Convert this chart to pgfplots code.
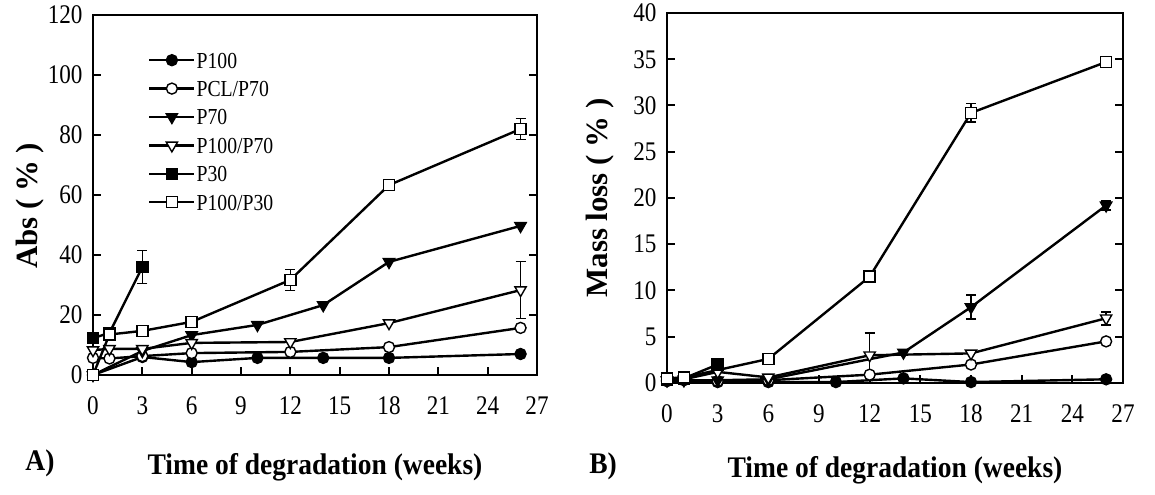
\documentclass[border=0pt]{standalone}
\usepackage{pgfplots}
\pgfplotsset{compat=1.18}
\usepackage{fontspec}
\setmainfont{Liberation Serif}[FakeStretch=0.86]
\newfontfamily\labelfont{Liberation Serif}[FakeStretch=0.92]
\newfontfamily\vlabelfont{Liberation Serif}

\pgfplotsset{
  degr/.style={
    scale only axis,
    xmin=0, xmax=27,
    xtick={0,3,...,27},
    xtick pos=bottom, ytick pos=both,
    tick align=inside,
    major tick length=8bp,
    tick style={line width=2bp, black},
    axis line style={line width=2.6bp},
    ticklabel style={font=\fontsize{27}{27}\selectfont},
    yticklabel style={xshift=-7bp},
    xticklabel style={yshift=-18bp},
    /pgf/number format/assume math mode=true,
    every axis plot/.append style={line width=2.4bp, black},
    legend image code/.code={
      \draw[mark repeat=2, mark phase=2, #1]
        plot coordinates {(0bp,0bp) (22.5bp,0bp) (45bp,0bp)};
    },
  },
  sP100/.style={mark=*, mark size=5.5bp, mark options={fill=black, line width=1.4bp}},
  sPCL/.style={mark=*, mark size=5.5bp, mark options={fill=white, line width=1.4bp}},
  sP70/.style={mark=triangle*, mark size=6.5bp, mark options={rotate=180, fill=black, line width=1.4bp}},
  sP100P70/.style={mark=triangle*, mark size=6.5bp, mark options={rotate=180, fill=white, line width=1.4bp}},
  sP30/.style={mark=square*, mark size=5.5bp, mark options={fill=black, line width=1.4bp}},
  sP100P30/.style={mark=square*, mark size=5.5bp, mark options={fill=white, line width=1.4bp}},
  ebar/.style={forget plot, only marks, mark=none,
    error bars/.cd, y dir=both, y explicit,
    error bar style={line width=1.6bp, black},
    error mark options={rotate=90, mark size=5bp, line width=1.6bp, black}},
}

\begin{document}
\begin{tikzpicture}
\path[use as bounding box] (0bp,0bp) rectangle (1155bp,495bp);

% ---------------- A) water absorption ----------------
\begin{axis}[degr,
  at={(93bp,120bp)}, anchor=south west,
  width=444bp, height=360bp,
  ymin=0, ymax=120, ytick={0,20,...,120},
  xlabel={\labelfont\bfseries\fontsize{30}{30}\selectfont Time of degradation (weeks)},
  xlabel style={at={(axis description cs:0.5,-0.256)}, anchor=center},
  ylabel={\vlabelfont\bfseries\fontsize{31}{31}\selectfont Abs ( \% )},
  ylabel style={at={(axis description cs:-0.142,0.47)}, anchor=center},
  legend style={draw=none, fill=none, at={(axis description cs:0,1)}, anchor=north west,
    xshift=52bp, yshift=-34bp, row sep=10.4bp,
    /tikz/every even column/.append style={column sep=11bp},
    nodes={inner sep=1bp, text height=16bp, text depth=0bp,
           font=\fontsize{23}{23}\selectfont}},
  legend cell align=left,
]
% error bars
\addplot[ebar] coordinates {(3,36) +- (0,5.5)};
\addplot[ebar] coordinates {(26,28.3) +- (0,9.5)};
\addplot[ebar] coordinates {(12,31.7) +- (0,3.5) (26,82) +- (0,3.5)};
% series
\addplot[sP100] coordinates {(0,0) (3,6) (6,4.3) (10,5.7) (14,5.7) (18,5.7) (26,7)};
\addlegendentry{P100}
\addplot[sPCL] coordinates {(0,5.7) (1,5.5) (3,6.3) (6,7.3) (12,7.7) (18,9.3) (26,15.7)};
\addlegendentry{PCL/P70}
\addplot[sP70] coordinates {(0,0) (3,8) (6,13.3) (10,16.7) (14,23.3) (18,37.7) (26,49.7)};
\addlegendentry{P70}
\addplot[sP100P70] coordinates {(0,8.3) (1,8.7) (3,8.7) (6,10.7) (12,11) (18,17.3) (26,28.3)};
\addlegendentry{P100/P70}
\addplot[sP30] coordinates {(0,12.3) (1,14) (3,36)};
\addlegendentry{P30}
\addplot[sP100P30] coordinates {(0,0) (1,13.5) (3,14.7) (6,17.7) (12,31.7) (18,63.3) (26,82)};
\addlegendentry{P100/P30}
\end{axis}
\node[font=\labelfont\bfseries\fontsize{30}{30}\selectfont] at (40bp,32bp) {A)};

% ---------------- B) mass loss ----------------
\begin{axis}[degr,
  at={(667bp,112bp)}, anchor=south west,
  width=456bp, height=370bp,
  ymin=0, ymax=40, ytick={0,5,...,40},
  xlabel={\labelfont\bfseries\fontsize{30}{30}\selectfont Time of degradation (weeks)},
  xlabel style={at={(axis description cs:0.5,-0.235)}, anchor=center},
  ylabel={\vlabelfont\bfseries\fontsize{31}{31}\selectfont Mass loss ( \% )},
  ylabel style={at={(axis description cs:-0.147,0.5)}, anchor=center},
]
\addplot[ebar] coordinates {(18,8.2) +- (0,1.3) (26,19.2) +- (0,0.5)};
\addplot[ebar] coordinates {(12,3.0) +- (0,2.4) (26,7.0) +- (0,0.7)};
\addplot[ebar] coordinates {(18,29.2) +- (0,1.0)};
\addplot[sP100] coordinates {(0,0.2) (3,0.1) (6,0.1) (10,0.1) (14,0.5) (18,0.1) (26,0.4)};
\addplot[sPCL] coordinates {(0,0.3) (1,0.3) (3,0.2) (6,0.3) (12,0.9) (18,2.0) (26,4.5)};
\addplot[sP70] coordinates {(0,0.3) (1,0.3) (3,0.3) (6,0.4) (14,3.3) (18,8.2) (26,19.2)};
\addplot[sP100P70] coordinates {(0,0.3) (1,0.4) (3,1.2) (6,0.6) (12,3.0) (18,3.2) (26,7.0)};
\addplot[sP30] coordinates {(0,0.4) (1,0.5) (3,2.0)};
\addplot[sP100P30] coordinates {(0,0.5) (1,0.6) (6,2.6) (12,11.5) (18,29.2) (26,34.7)};
\end{axis}
\node[font=\labelfont\bfseries\fontsize{30}{30}\selectfont] at (603bp,29bp) {B)};
\end{tikzpicture}
\end{document}
